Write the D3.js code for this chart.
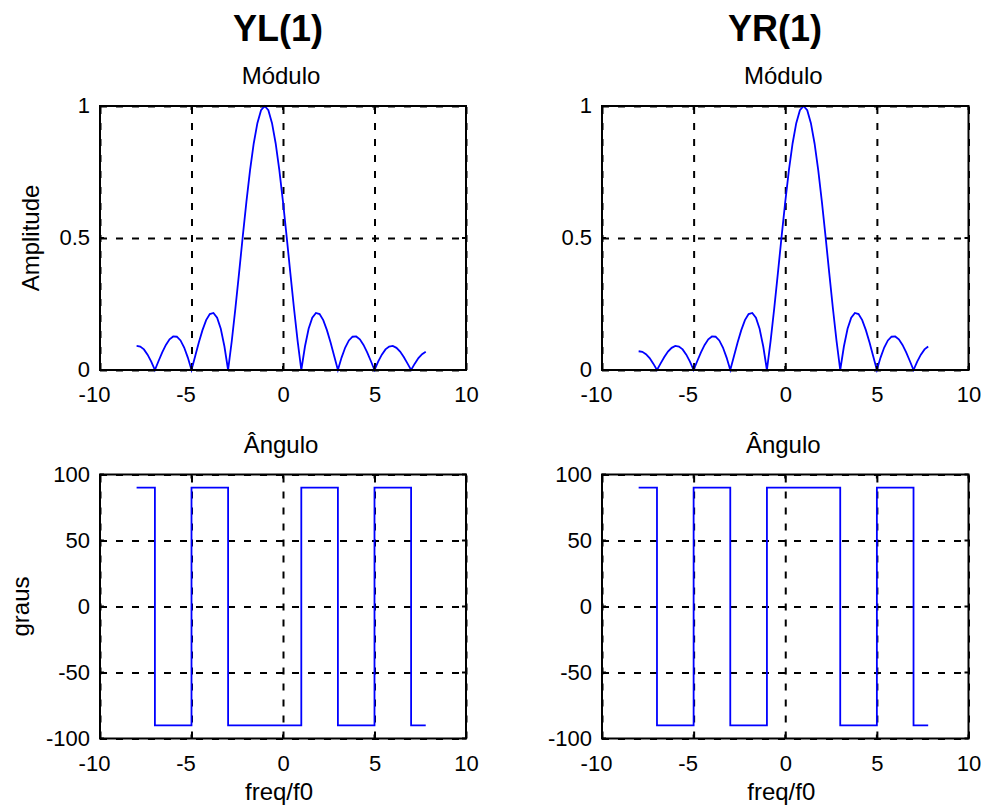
<!DOCTYPE html>
<html>
<head>
<meta charset="utf-8">
<script src="https://cdn.jsdelivr.net/npm/d3@7"></script>
<style>
  html, body { margin: 0; padding: 0; background: #fff; }
  svg { display: block; }
  text { font-family: "Liberation Sans", Arial, sans-serif; fill: #000; }
</style>
</head>
<body>
<svg id="chart" width="986" height="812"></svg>
<script>
// ---------------- DATA ----------------
// frequency samples (freq/f0), step 0.2 from -8 to 7.8
const freqStart = -8, freqStep = 0.2;
// |YL(1)| magnitude samples
const magL = [
  0.091,0.089,0.078,0.058,0.032,0,
  0.034,0.067,0.095,0.116,0.127,0.126,0.112,0.085,0.047,0,
  0.052,0.104,0.151,0.189,0.212,0.216,0.198,0.156,0.089,0,
  0.109,0.234,0.368,0.505,0.637,0.757,0.858,0.935,0.984,
  1.000,
  0.984,0.935,0.858,0.757,0.637,0.505,0.368,0.234,0.109,0,
  0.089,0.156,0.198,0.216,0.212,0.189,0.151,0.104,0.052,0,
  0.047,0.085,0.112,0.126,0.127,0.116,0.095,0.067,0.034,0,
  0.032,0.058,0.078,0.089,0.091,0.084,0.070,0.049,0.025,0,
  0.024,0.045,0.060,0.069
];
// |YR(1)| magnitude samples
const magR = [
  0.071,0.069,0.060,0.045,0.024,0,
  0.025,0.049,0.070,0.084,0.091,0.089,0.078,0.058,0.032,0,
  0.034,0.067,0.095,0.116,0.127,0.126,0.112,0.085,0.047,0,
  0.052,0.104,0.151,0.189,0.212,0.216,0.198,0.156,0.089,0,
  0.109,0.234,0.368,0.505,0.637,0.757,0.858,0.935,0.984,
  1.000,
  0.984,0.935,0.858,0.757,0.637,0.505,0.368,0.234,0.109,0,
  0.089,0.156,0.198,0.216,0.212,0.189,0.151,0.104,0.052,0,
  0.047,0.085,0.112,0.126,0.127,0.116,0.095,0.067,0.034,0,
  0.032,0.058,0.078,0.089
];
// phase (degrees): breakpoints and value held until the next breakpoint
const phaseFreqL = [-8, -7, -5, -3, 1, 3, 5, 7, 7.8];
const phaseL     = [90, -90, 90, -90, 90, -90, 90, -90, -90];
const phaseFreqR = [-8, -7, -5, -3, -1, 3, 5, 7, 7.8];
const phaseR     = [90, -90, 90, -90, 90, -90, 90, -90, -90];

const xTicks = [-10, -5, 0, 5, 10];
const magTicks = [0, 0.5, 1];
const phaseTicks = [-100, -50, 0, 50, 100];

const titles = ["YL(1)", "YR(1)"];
const subTitleTop = "Módulo";
const subTitleBottom = "Ângulo";
const yLabelTop = "Amplitude";
const yLabelBottom = "graus";
const xLabel = "freq/f0";

// ---------------- DRAW ----------------
const svg = d3.select("#chart");
const FS = 22;
const plainFmt = d => String(d);   // ASCII hyphen-minus, like the reference

const cols = [{x0: 100, x1: 466, tx: 278}, {x0: 602, x1: 968.5, tx: 775}];
const rows = [{y0: 106, y1: 370}, {y0: 474.5, y1: 738.5}];

function panel(col, row, opts) {
  const x = d3.scaleLinear().domain([-10, 10]).range([col.x0, col.x1]);
  const y = d3.scaleLinear().domain(opts.yDomain).range([row.y1, row.y0]);
  const g = svg.append("g");
  const w = col.x1 - col.x0, h = row.y1 - row.y0;

  // grid lines (dashed)
  const gx = g.append("g").attr("transform", `translate(0,${row.y1})`)
    .call(d3.axisBottom(x).tickValues(xTicks).tickSize(-h).tickFormat(""));
  gx.select(".domain").remove();
  const gy = g.append("g").attr("transform", `translate(${col.x0},0)`)
    .call(d3.axisLeft(y).tickValues(opts.yTicks).tickSize(-w).tickFormat(""));
  gy.select(".domain").remove();
  g.selectAll(".tick line")
    .attr("stroke", "#000").attr("stroke-width", 2)
    .attr("stroke-dasharray", "7,9");

  // data line
  const line = d3.line().x(d => x(d[0])).y(d => y(d[1]));
  if (opts.step) line.curve(d3.curveStepAfter);
  g.append("path").datum(opts.data)
    .attr("fill", "none").attr("stroke", "#0000ff").attr("stroke-width", 1.8)
    .attr("d", line);

  // box
  g.append("rect").attr("x", col.x0).attr("y", row.y0).attr("width", w).attr("height", h)
    .attr("fill", "none").attr("stroke", "#000").attr("stroke-width", 2);

  // tick marks inside
  const tm = g.append("g").attr("stroke", "#000").attr("stroke-width", 2);
  xTicks.forEach(v => {
    tm.append("line").attr("x1", x(v)).attr("x2", x(v)).attr("y1", row.y1).attr("y2", row.y1 - 4);
    tm.append("line").attr("x1", x(v)).attr("x2", x(v)).attr("y1", row.y0).attr("y2", row.y0 + 4);
  });
  opts.yTicks.forEach(v => {
    tm.append("line").attr("x1", col.x0).attr("x2", col.x0 + 4).attr("y1", y(v)).attr("y2", y(v));
    tm.append("line").attr("x1", col.x1).attr("x2", col.x1 - 4).attr("y1", y(v)).attr("y2", y(v));
  });

  // tick labels
  const lx = g.append("g").attr("transform", `translate(0,${row.y1})`)
    .call(d3.axisBottom(x).tickValues(xTicks).tickSize(0).tickFormat(plainFmt));
  lx.select(".domain").remove();
  lx.selectAll("text").attr("y", 32).attr("dy", 0)
    .attr("x", d => d < 0 ? -6 : 0)
    .attr("fill", "#000")
    .style("font-size", FS + "px").style("font-family", "Liberation Sans, Arial, sans-serif");

  const ly = g.append("g").attr("transform", `translate(${col.x0},0)`)
    .call(d3.axisLeft(y).tickValues(opts.yTicks).tickSize(0).tickFormat(plainFmt));
  ly.select(".domain").remove();
  ly.selectAll("text").attr("x", -10).attr("dy", "0.30em")
    .attr("fill", "#000")
    .style("font-size", FS + "px").style("font-family", "Liberation Sans, Arial, sans-serif");

  // subplot title
  g.append("text").attr("x", (col.x0 + col.x1) / 2 - 2).attr("y", row.y0 - 22)
    .attr("text-anchor", "middle").style("font-size", "24px").text(opts.title);

  if (opts.yLabel) {
    g.append("text")
      .attr("transform", `translate(${opts.yLabelX},${(row.y0 + row.y1) / 2}) rotate(-90)`)
      .attr("text-anchor", "middle").style("font-size", "24px").text(opts.yLabel);
  }
  if (opts.xLabel) {
    g.append("text").attr("x", (col.x0 + col.x1) / 2 - 4).attr("y", row.y1 + 61)
      .attr("text-anchor", "middle").style("font-size", "24px").text(opts.xLabel);
  }
}

const magData = [magL, magR].map(arr => arr.map((v, i) => [freqStart + freqStep * i, v]));
const phaseData = [
  phaseFreqL.map((f, i) => [f, phaseL[i]]),
  phaseFreqR.map((f, i) => [f, phaseR[i]])
];

[0, 1].forEach(c => {
  panel(cols[c], rows[0], {
    yDomain: [0, 1], yTicks: magTicks,
    data: magData[c], step: false, title: subTitleTop,
    yLabel: c === 0 ? yLabelTop : null, yLabelX: 39
  });
  panel(cols[c], rows[1], {
    yDomain: [-100, 100], yTicks: phaseTicks,
    data: phaseData[c], step: true, title: subTitleBottom,
    yLabel: c === 0 ? yLabelBottom : null, yLabelX: 29, xLabel: xLabel
  });
  svg.append("text").attr("x", cols[c].tx).attr("y", 40.5)
    .attr("text-anchor", "middle").style("font-size", "36px").style("font-weight", "bold")
    .text(titles[c]);
});
</script>
</body>
</html>
